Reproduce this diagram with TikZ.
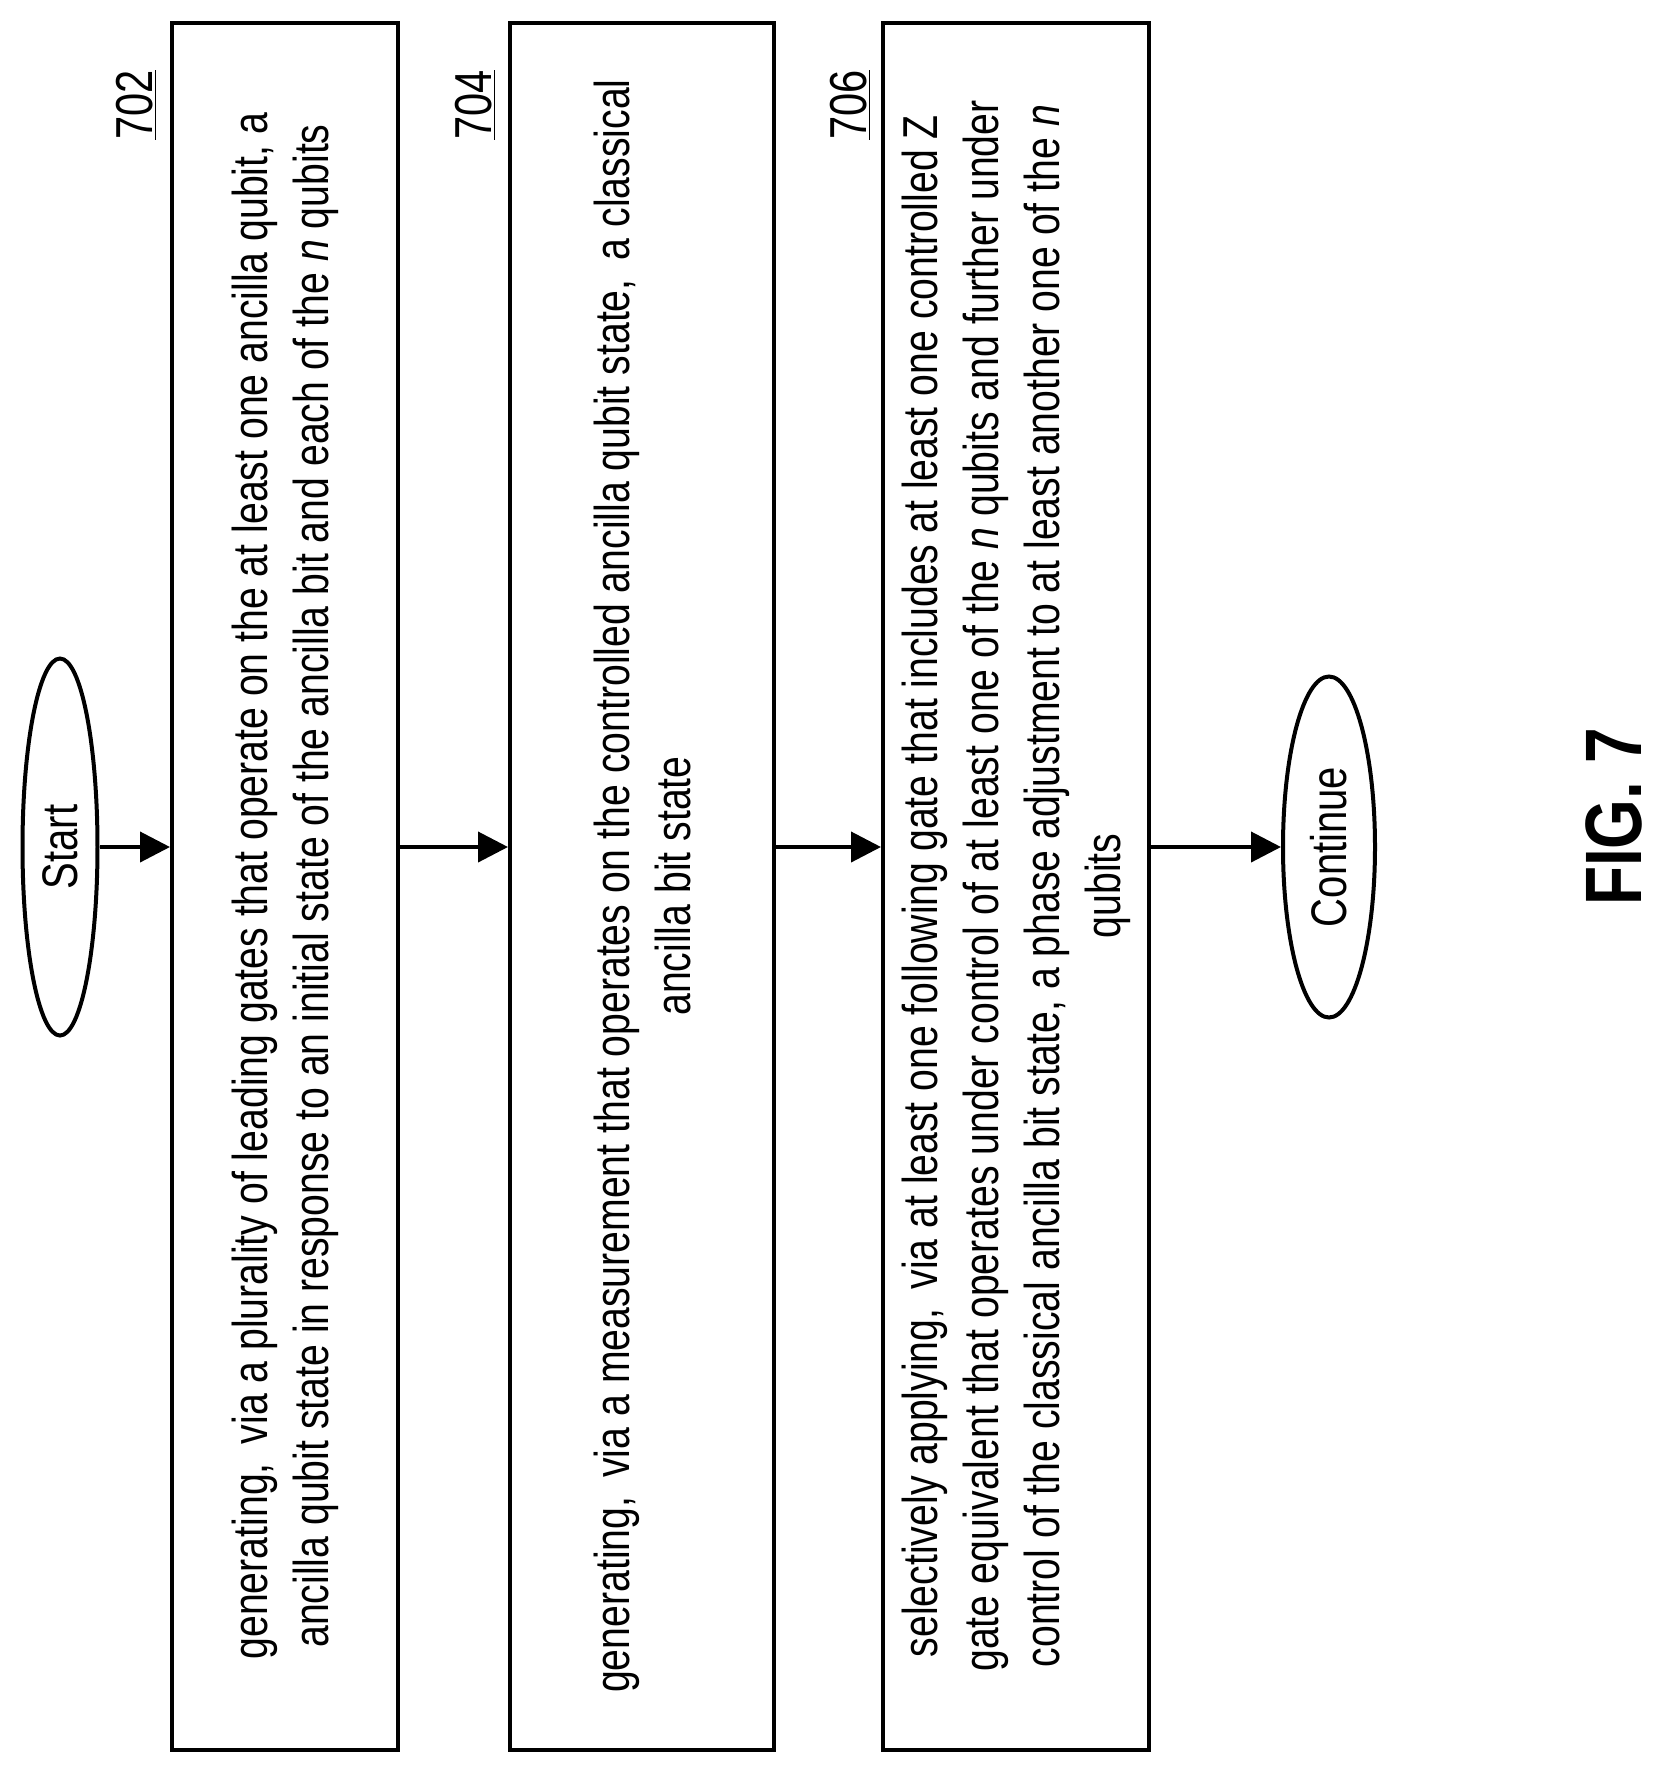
\documentclass[tikz,border=0pt]{standalone}
\usepackage{fontspec}
\setmainfont{Liberation Sans}[FakeStretch=0.8]
\usetikzlibrary{positioning,shapes.geometric,arrows.meta}
\tikzset{
	stepbox/.style={draw,line width=4pt,rotate=90,minimum width=1727pt,align=center,font=\fontsize{49}{61}\selectfont,inner sep=0pt},
	terminal/.style={draw,ellipse,line width=4pt,rotate=90,inner sep=0pt,font=\fontsize{50}{62}\selectfont},
	reflabel/.style={rotate=90,font=\fontsize{52}{56}\selectfont},
	flow/.style={line width=4pt,-{Triangle[length=30pt,width=30pt]}}
}
\begin{document}
\begin{tikzpicture}[x=1pt,y=1pt]
	\useasboundingbox (0,0) rectangle (1661,-1770);
	\node[terminal,minimum width=377pt,minimum height=75pt] (start) at (60,-847) {Start};
	\node[stepbox,minimum height=226pt] (s702) at (285,-886) {generating,\, via a plurality of leading gates that operate on the at least one ancilla qubit, a\\ ancilla qubit state in response to an initial state of the ancilla bit and each of the \textit{n} qubits};
	\node[stepbox,minimum height=264pt] (s704) at (642,-886) {generating,\, via a measurement that operates on the controlled ancilla qubit state,\, a classical\\ ancilla bit state};
	\node[stepbox,minimum height=266pt] (s706) at (1016,-886) {selectively applying,\, via at least one following gate that includes at least one controlled Z\\ gate equivalent that operates under control of at least one of the \textit{n} qubits and further under\\ control of the classical ancilla bit state, a phase adjustment to at least another one of the \textit{n}\\ qubits};
	\node[terminal,minimum width=341pt,minimum height=92pt] (cont) at (1329,-847) {Continue};
	% step numbers
	\node[reflabel] (n702) at (136,-105) {\underline{702}};
	\node[reflabel] (n704) at (475,-105) {\underline{704}};
	\node[reflabel] (n706) at (850,-105) {\underline{706}};
	\node[rotate=90,font=\bfseries\fontsize{80}{90}\selectfont] (fig) at (1614,-817) {FIG. 7};
	% arrows
	\draw[flow] (start.south) -- (start.south -| s702.north);
	\draw[flow] (s702.south |- start) -- (s704.north |- start);
	\draw[flow] (s704.south |- start) -- (s706.north |- start);
	\draw[flow] (s706.south |- start) -- (cont.north);
\end{tikzpicture}
\end{document}
